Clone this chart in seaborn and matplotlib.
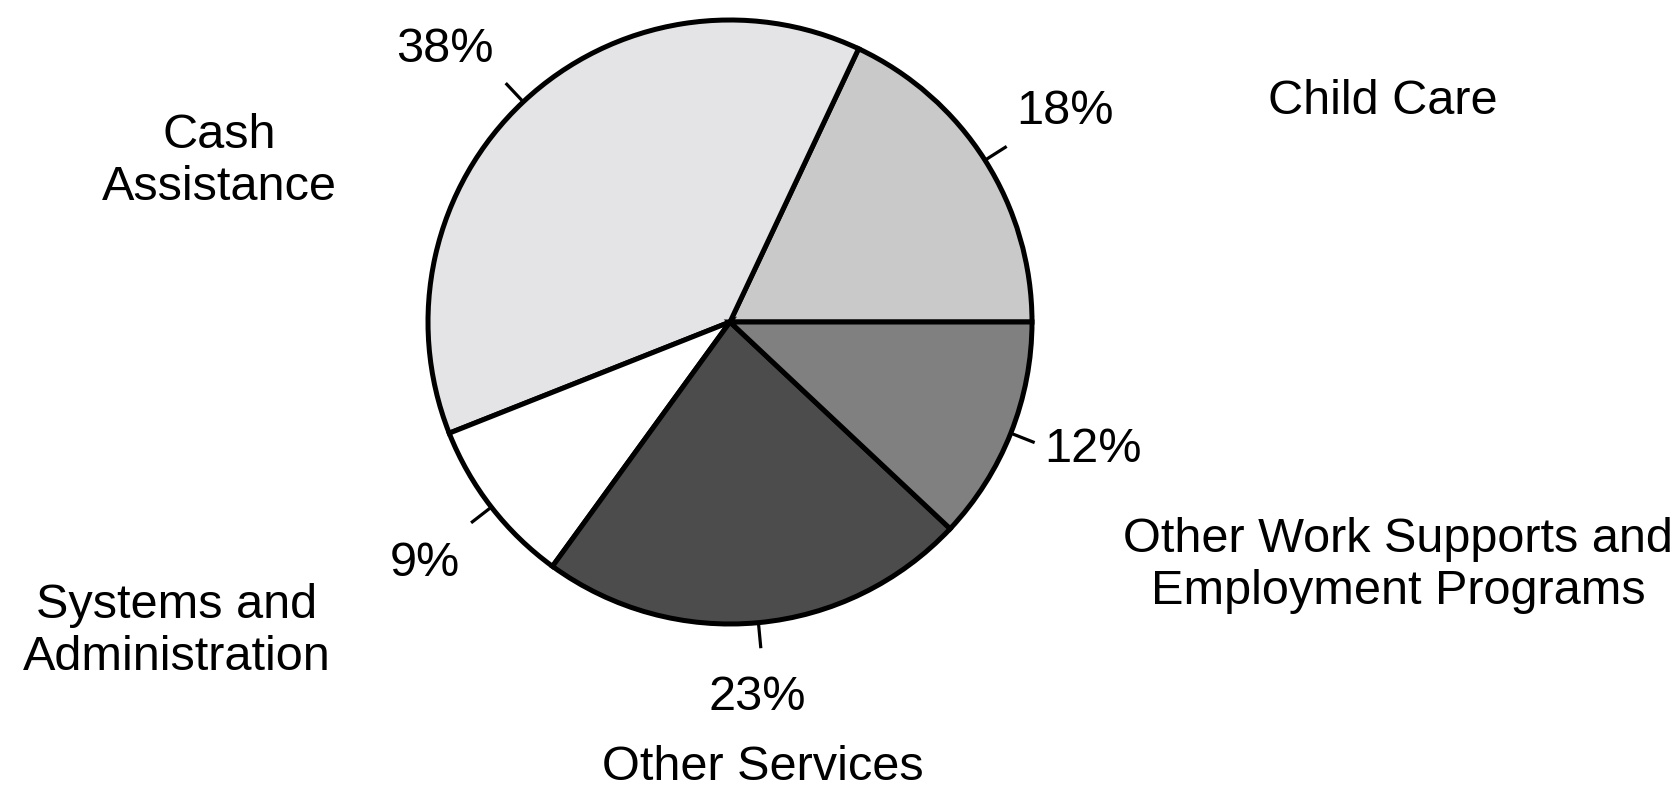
import numpy as np
import matplotlib
matplotlib.use("Agg")
import matplotlib.pyplot as plt
import seaborn as sns

# Budget shares by spending category (percent)
categories = ["Child Care", "Cash\nAssistance", "Systems and\nAdministration",
              "Other Services", "Other Work Supports and\nEmployment Programs"]
shares = [18, 38, 9, 23, 12]
fill_colors = ["#c9c9c9", "#e4e4e6", "#ffffff", "#4c4c4c", "#808080"]

# Category caption anchor points (pixels, measured from the top-left corner)
caption_x = [1383, 219, 177, 763, 1398]
caption_y = [101, 162, 631, 768, 565]
# Percentage label centres (pixels, from the top-left corner)
pct_x = [1065, 445, 425, 757, 1093]
pct_y = [111, 50, 563, 697, 449]

sns.set_theme(style="white")
plt.rcParams["font.family"] = ["Liberation Sans", "DejaVu Sans"]

W, H = 1677, 792
fig = plt.figure(figsize=(W / 100, H / 100), dpi=100)
ax = fig.add_axes([0, 0, 1, 1])

cx, cy, R = 730, H - 322, 302
wedges, _, pct_texts = ax.pie(
    shares, startangle=0, counterclock=True, colors=fill_colors,
    center=(cx, cy), radius=R, autopct="%d%%", pctdistance=1.28,
    wedgeprops=dict(edgecolor="black", linewidth=3.6),
    textprops=dict(fontsize=35, color="black"),
)
for t, x, y in zip(pct_texts, pct_x, pct_y):
    t.set_position((x, H - y))

# Short radial leader ticks at each slice's mid-angle
start = 0.0
for s in shares:
    mid = np.deg2rad(start + s * 3.6 / 2)
    start += s * 3.6
    r0, r1 = R * 1.0, R * 1.085
    ax.plot([cx + r0 * np.cos(mid), cx + r1 * np.cos(mid)],
            [cy + r0 * np.sin(mid), cy + r1 * np.sin(mid)],
            color="black", linewidth=2.3, solid_capstyle="butt")

for name, x, y in zip(categories, caption_x, caption_y):
    ax.text(x, H - y, name, ha="center", va="center", fontsize=35,
            color="black", linespacing=1.2)

ax.set_xlim(0, W)
ax.set_ylim(0, H)
ax.set_aspect("equal", adjustable="box")
ax.axis("off")
fig.savefig("out.png", dpi=100, facecolor="white")
